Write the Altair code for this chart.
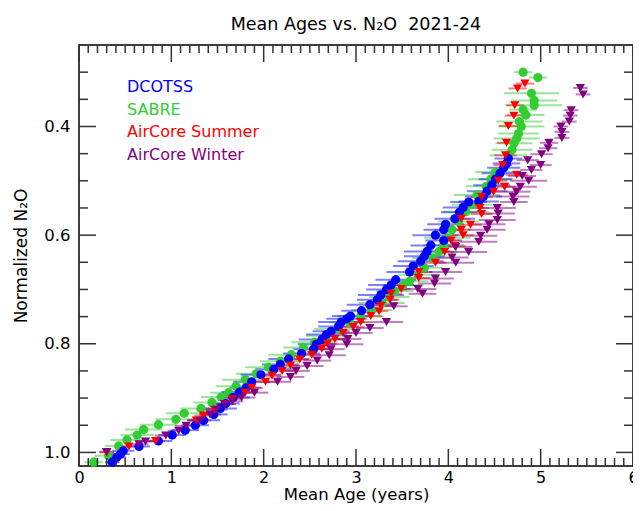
import altair as alt
import pandas as pd

SERIES = ["DCOTSS", "SABRE", "AirCore Summer", "AirCore Winter"]
COLORS = ["#0000ff", "#33cc33", "#ff0000", "#800080"]
SHAPES = ["circle", "circle", "triangle-down", "triangle-down"]

dcotss_age = [0.36, 0.41, 0.45, 0.48, 0.65, 0.86, 1.01, 1.15, 1.26, 1.35,
              1.46, 1.53, 1.59, 1.67, 1.74, 1.81, 1.87, 1.97, 2.11, 2.18,
              2.27, 2.41, 2.54, 2.57, 2.63, 2.68, 2.73, 2.81, 2.84, 2.90,
              2.94, 3.06, 3.15, 3.23, 3.27, 3.33, 3.38, 3.43, 3.58, 3.62,
              3.70, 3.74, 3.77, 3.81, 3.86, 3.95, 3.95, 3.97, 4.07, 4.12,
              4.16, 4.22, 4.33, 4.38, 4.42, 4.47, 4.51, 4.56, 4.60, 4.63,
              4.65]
dcotss_n2o = [1.018, 1.009, 1.003, 0.997, 0.989, 0.979, 0.968, 0.959, 0.950, 0.941,
              0.930, 0.919, 0.910, 0.899, 0.889, 0.881, 0.870, 0.857, 0.847, 0.838,
              0.828, 0.818, 0.810, 0.801, 0.792, 0.783, 0.777, 0.768, 0.760, 0.754,
              0.749, 0.739, 0.728, 0.719, 0.710, 0.700, 0.692, 0.682, 0.668, 0.657,
              0.648, 0.639, 0.630, 0.619, 0.600, 0.610, 0.590, 0.580, 0.570, 0.558,
              0.549, 0.539, 0.538, 0.529, 0.519, 0.508, 0.497, 0.486, 0.476, 0.468,
              0.459]
dcotss_err = [0.08, 0.10, 0.10, 0.12, 0.12, 0.15, 0.15, 0.15, 0.15, 0.18,
              0.15, 0.18, 0.15, 0.18, 0.20, 0.18, 0.20, 0.22, 0.20, 0.20,
              0.22, 0.20, 0.22, 0.20, 0.25, 0.22, 0.20, 0.22, 0.25, 0.22,
              0.20, 0.22, 0.25, 0.22, 0.25, 0.22, 0.25, 0.22, 0.25, 0.22,
              0.25, 0.22, 0.25, 0.22, 0.25, 0.20, 0.22, 0.20, 0.22, 0.20,
              0.22, 0.20, 0.22, 0.20, 0.22, 0.20, 0.18, 0.20, 0.18, 0.15,
              0.15]

sabre_age = [0.16, 0.32, 0.43, 0.52, 0.63, 0.70, 0.86, 1.05, 1.14, 1.32,
             1.44, 1.54, 1.62, 1.70, 1.80, 1.92, 2.05, 2.18, 2.30, 2.43,
             2.55, 2.68, 2.80, 2.93, 3.05, 3.17, 3.28, 3.36, 3.42, 3.51,
             3.58, 3.67, 3.74, 3.83, 3.90, 3.95, 3.99, 4.04, 4.11, 4.19,
             4.26, 4.31, 4.41, 4.46, 4.51, 4.65, 4.69, 4.71, 4.74, 4.76,
             4.79, 4.77, 4.84, 4.81, 4.93, 4.93, 4.90, 4.97, 4.81]
sabre_n2o = [1.018, 1.006, 0.988, 0.977, 0.968, 0.958, 0.949, 0.939, 0.928, 0.919,
             0.908, 0.898, 0.890, 0.878, 0.866, 0.855, 0.843, 0.832, 0.820, 0.807,
             0.797, 0.785, 0.773, 0.761, 0.750, 0.738, 0.725, 0.714, 0.703, 0.692,
             0.685, 0.673, 0.660, 0.642, 0.630, 0.618, 0.605, 0.590, 0.575, 0.557,
             0.544, 0.526, 0.510, 0.497, 0.484, 0.453, 0.443, 0.431, 0.422, 0.413,
             0.400, 0.391, 0.379, 0.369, 0.361, 0.352, 0.339, 0.310, 0.300]
sabre_err = [0.10, 0.15, 0.15, 0.18, 0.18, 0.20, 0.20, 0.22, 0.20, 0.22,
             0.20, 0.22, 0.20, 0.22, 0.25, 0.22, 0.25, 0.22, 0.25, 0.22,
             0.25, 0.22, 0.25, 0.22, 0.25, 0.22, 0.25, 0.22, 0.20, 0.22,
             0.20, 0.22, 0.20, 0.22, 0.20, 0.22, 0.25, 0.20, 0.22, 0.25,
             0.22, 0.25, 0.22, 0.25, 0.22, 0.20, 0.22, 0.20, 0.25, 0.22,
             0.25, 0.25, 0.20, 0.15, 0.30, 0.25, 0.30, 0.10, 0.10]

summer_age = [0.30, 0.54, 0.83, 1.27, 1.35, 1.47, 1.58, 1.66, 1.80, 1.87,
              2.02, 2.09, 2.20, 2.29, 2.39, 2.52, 2.63, 2.69, 2.77, 2.86,
              2.97, 3.05, 3.16, 3.25, 3.27, 3.37, 3.38, 3.49, 3.68, 3.68,
              3.86, 3.96, 4.07, 4.03, 4.16, 4.14, 4.24, 4.14, 4.36, 4.34,
              4.36, 4.49, 4.61, 4.54, 4.74, 4.59, 4.62, 4.63, 4.65, 4.71,
              4.72, 4.75, 4.83]
summer_n2o = [1.000, 0.989, 0.979, 0.941, 0.932, 0.922, 0.911, 0.902, 0.890, 0.881,
              0.870, 0.859, 0.850, 0.840, 0.829, 0.820, 0.809, 0.800, 0.791, 0.780,
              0.769, 0.760, 0.749, 0.740, 0.730, 0.719, 0.708, 0.699, 0.679, 0.668,
              0.651, 0.631, 0.620, 0.610, 0.600, 0.590, 0.581, 0.570, 0.561, 0.550,
              0.530, 0.520, 0.511, 0.500, 0.489, 0.471, 0.453, 0.430, 0.399, 0.380,
              0.361, 0.330, 0.321]
summer_err = [0.08, 0.10, 0.10, 0.10, 0.10, 0.10, 0.10, 0.10, 0.12, 0.10,
              0.12, 0.10, 0.12, 0.10, 0.12, 0.10, 0.12, 0.10, 0.12, 0.10,
              0.12, 0.10, 0.12, 0.10, 0.12, 0.10, 0.12, 0.10, 0.12, 0.10,
              0.12, 0.10, 0.12, 0.10, 0.12, 0.10, 0.12, 0.10, 0.12, 0.10,
              0.12, 0.10, 0.12, 0.10, 0.12, 0.10, 0.12, 0.10, 0.10, 0.10,
              0.10, 0.10, 0.10]

winter_age = [0.30, 0.65, 0.72, 0.94, 1.08, 1.16, 1.31, 1.42, 1.49, 1.58,
              1.66, 1.76, 1.90, 2.15, 2.29, 2.35, 2.47, 2.58, 2.71, 2.73,
              2.90, 2.91, 3.00, 3.15, 3.33, 3.41, 3.72, 3.67, 3.85, 3.86,
              3.97, 4.08, 4.04, 4.22, 4.08, 4.33, 4.35, 4.42, 4.44, 4.53,
              4.54, 4.53, 4.71, 4.70, 4.74, 4.78, 4.87, 4.80, 4.90, 5.00,
              4.86, 5.01, 5.08, 5.09, 5.23, 5.23, 5.22, 5.31, 5.32, 5.33,
              5.46, 5.43]
winter_n2o = [0.999, 0.985, 0.980, 0.969, 0.960, 0.951, 0.941, 0.930, 0.921, 0.911,
              0.906, 0.899, 0.890, 0.870, 0.861, 0.850, 0.841, 0.831, 0.821, 0.810,
              0.801, 0.791, 0.780, 0.771, 0.760, 0.731, 0.708, 0.699, 0.689, 0.680,
              0.668, 0.651, 0.641, 0.631, 0.622, 0.612, 0.601, 0.590, 0.580, 0.572,
              0.560, 0.550, 0.539, 0.529, 0.520, 0.511, 0.500, 0.491, 0.480, 0.471,
              0.462, 0.451, 0.440, 0.430, 0.421, 0.410, 0.400, 0.391, 0.380, 0.370,
              0.341, 0.329]
winter_err = [0.08, 0.10, 0.10, 0.12, 0.12, 0.12, 0.12, 0.12, 0.12, 0.12,
              0.12, 0.15, 0.15, 0.15, 0.15, 0.15, 0.18, 0.15, 0.18, 0.15,
              0.18, 0.15, 0.18, 0.15, 0.18, 0.15, 0.15, 0.20, 0.18, 0.20,
              0.18, 0.20, 0.18, 0.20, 0.18, 0.20, 0.18, 0.20, 0.18, 0.20,
              0.18, 0.20, 0.15, 0.18, 0.15, 0.18, 0.20, 0.15, 0.12, 0.12,
              0.12, 0.12, 0.10, 0.10, 0.08, 0.08, 0.08, 0.08, 0.08, 0.08,
              0.08, 0.08]

X_LABELS = [0, 1, 2, 3, 4, 5, 6]
X_MINOR = [i / 10 for i in range(61) if i % 10]
Y_LABELS = [0.4, 0.6, 0.8, 1.0]
Y_MINOR = [0.3, 0.35, 0.45, 0.5, 0.55, 0.65, 0.7, 0.75, 0.85, 0.9, 0.95]

W, H = 554, 421
FONT = "DejaVu Sans"
TICK = "#333333"

# drawing order: SABRE underneath, then DCOTSS, then the AirCore profiles
parts = [
    ("SABRE", sabre_age, sabre_n2o, sabre_err),
    ("DCOTSS", dcotss_age, dcotss_n2o, dcotss_err),
    ("AirCore Summer", summer_age, summer_n2o, summer_err),
    ("AirCore Winter", winter_age, winter_n2o, winter_err),
]
df = pd.concat([
    pd.DataFrame({"series": name, "age": a, "n2o": n, "err": e})
    for name, a, n, e in parts
], ignore_index=True)
df["lo"] = df["age"] - df["err"]
df["hi"] = df["age"] + df["err"]

x_scale = alt.Scale(domain=[0, 6], nice=False, zero=False)
y_scale = alt.Scale(domain=[0.25, 1.025], reverse=True, nice=False, zero=False)
color = alt.Color("series:N", scale=alt.Scale(domain=SERIES, range=COLORS), legend=None)

X_AX = alt.Axis(values=X_LABELS, format="d", ticks=False, domain=False, grid=False,
                labelPadding=3, labelFontSize=16, labelColor="black", labelFont=FONT,
                labelFlush=False, labelOverlap=False,
                title="Mean Age (years)", titleFontSize=16.5, titleFont=FONT,
                titleFontWeight="normal", titleColor="black", titlePadding=1)
Y_AX = alt.Axis(values=Y_LABELS, format=".1f", ticks=False, domain=False, grid=False,
                labelPadding=9, labelFontSize=16.5, labelColor="black", labelFont=FONT,
                labelFlush=False, labelOverlap=False,
                title="Normalized N₂O", titleFontSize=17, titleFont=FONT,
                titleFontWeight="normal", titleColor="black", titlePadding=13)

errs = alt.Chart(df).mark_rule(strokeWidth=2, opacity=0.5).encode(
    x=alt.X("lo:Q", scale=x_scale, axis=X_AX),
    x2="hi:Q",
    y=alt.Y("n2o:Q", scale=y_scale, axis=Y_AX),
    color=color,
)

points = alt.Chart(df).mark_point(filled=True, opacity=1, strokeWidth=0).encode(
    x=alt.X("age:Q", scale=x_scale, axis=X_AX),
    y=alt.Y("n2o:Q", scale=y_scale, axis=Y_AX),
    color=color,
    shape=alt.Shape("series:N", scale=alt.Scale(domain=SERIES, range=SHAPES), legend=None),
    size=alt.Size("series:N", scale=alt.Scale(domain=SERIES, range=[85, 85, 110, 110]),
                  legend=None),
)


def x_ticks(vals, length):
    base = alt.Chart(pd.DataFrame({"v": vals})).mark_rule(color=TICK, strokeWidth=1.5)
    xx = alt.X("v:Q", scale=x_scale, axis=X_AX)
    bottom = base.encode(x=xx, y=alt.value(H), y2=alt.value(H - length))
    top = base.encode(x=xx, y=alt.value(0), y2=alt.value(length))
    return [bottom, top]


def y_ticks(vals, length):
    base = alt.Chart(pd.DataFrame({"v": vals})).mark_rule(color=TICK, strokeWidth=1.5)
    yy = alt.Y("v:Q", scale=y_scale, axis=Y_AX)
    left = base.encode(y=yy, x=alt.value(0), x2=alt.value(length))
    right = base.encode(y=yy, x=alt.value(W), x2=alt.value(W - length))
    return [left, right]


tick_layers = (x_ticks(X_LABELS, 17) + x_ticks(X_MINOR, 8)
               + y_ticks(Y_LABELS, 17) + y_ticks(Y_MINOR, 9))

legend_layers = []
for i, (name, col) in enumerate(zip(SERIES, COLORS)):
    legend_layers.append(
        alt.Chart(pd.DataFrame({"label": [name]})).mark_text(
            align="left", baseline="middle", fontSize=16, font=FONT, color=col
        ).encode(text="label:N", x=alt.value(48), y=alt.value(42 + 22.7 * i))
    )

chart = alt.layer(errs, points, *tick_layers, *legend_layers).properties(
    width=W,
    height=H,
    title=alt.TitleParams("Mean Ages vs. N₂O\u00a0 2021-24", fontSize=17.5, font=FONT,
                          fontWeight="normal", color="black", offset=11),
    autosize=alt.AutoSizeParams(type="none"),
    padding={"left": 71, "top": 37, "right": 0, "bottom": 37},
).configure_view(stroke="black", strokeWidth=1.5)

chart.save("out.html", embed_options={"renderer": "svg", "actions": False})
